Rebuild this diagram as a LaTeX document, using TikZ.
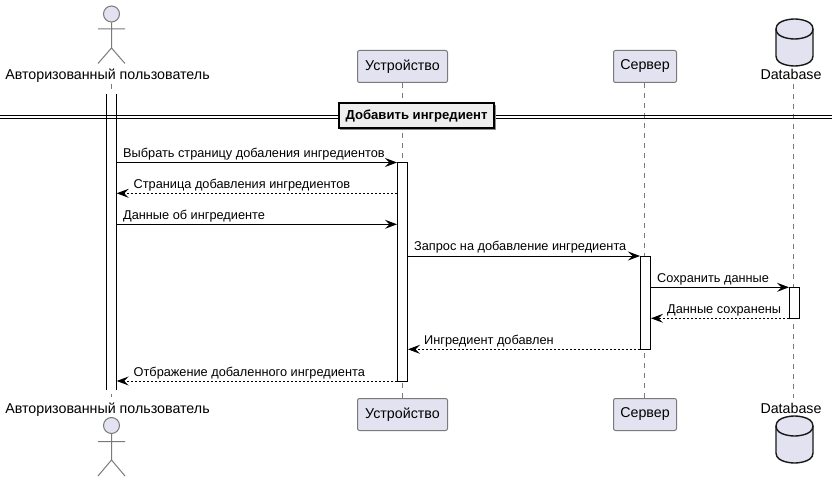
\documentclass[tikz,border=0pt]{standalone}
\usepackage{fontspec}
\setmainfont{Liberation Sans}
\usetikzlibrary{arrows.meta}
\definecolor{partfill}{HTML}{E2E2F0}
\definecolor{thinline}{HTML}{7A7A7A}
\definecolor{ink}{HTML}{181818}
\definecolor{divfill}{HTML}{EEEEEE}
\tikzset{
  x=1pt,y=-1pt,
  lab/.style={inner sep=0pt,font=\fontsize{14.25}{16}\selectfont,text=black},
  msgtext/.style={inner sep=0pt,anchor=base west,font=\fontsize{12.75}{15}\selectfont,text=black},
  partbox/.style={draw=thinline,fill=partfill,line width=1pt,rounded corners=2pt,minimum height=32pt,inner sep=0pt,font=\fontsize{14.25}{16}\selectfont},
  life/.style={draw=thinline,line width=1pt,dash pattern=on 5pt off 5pt},
  actbar/.style={draw=black,fill=white,line width=1pt,minimum width=10pt,inner sep=0pt},
  call/.style={draw=black,line width=1pt,-{Stealth[length=12pt,width=9pt,inset=4.5pt]}},
  reply/.style={call,dash pattern=on 2pt off 2pt},
  actorline/.style={draw=thinline,line width=1pt},
  headc/.style={circle,draw=thinline,fill=partfill,line width=1pt,minimum size=16pt,inner sep=0pt},
  dbshape/.style={draw=ink,fill=partfill,line width=1.4pt},
}
\begin{document}
\begin{tikzpicture}
\useasboundingbox (0,0) rectangle (838,481);
\fill[white] (0,0) rectangle (838,481);
% header / footer participants
\node[lab,anchor=base] (ut) at (107.5,80) {Авторизованный пользователь};
\node[lab,anchor=base] (ub) at (107.5,413) {Авторизованный пользователь};
\node[partbox,minimum width=90pt] (dt) at (402.5,66.5) {Устройство};
\node[partbox,minimum width=90pt] (db) at (402.5,414.5) {Устройство};
\node[partbox,minimum width=63pt] (st) at (645,66.5) {Сервер};
\node[partbox,minimum width=63pt] (sb) at (645,414.5) {Сервер};
\node[lab,anchor=base] (bt) at (791,80) {Database};
\node[lab,anchor=base] (bb) at (791,413) {Database};
% lifelines
\coordinate (uls) at (111.5,84);
\coordinate (ule) at (111.5,397);
\coordinate (bls) at (793.5,84);
\coordinate (ble) at (793.5,398);
\draw[life] (uls) -- (ule);
\draw[life] (dt.south -| 402.5,0) -- (db.north -| 402.5,0);
\draw[life] (st.south -| 644.5,0) -- (sb.north -| 644.5,0);
\draw[life] (bls) -- (ble);
% actors
\node[headc] (ha) at (111.5,14) {};
\coordinate (hip) at (111.5,48);
\coordinate (arml) at (98,29); \coordinate (armr) at (125,29);
\coordinate (legl) at (98,63.5); \coordinate (legr) at (125,63.5);
\draw[actorline] (ha.south) -- (hip) (arml) -- (armr) (legl) -- (hip) -- (legr);
\node[headc] (hb) at (111.5,425.5) {};
\coordinate (hipb) at (111.5,460);
\coordinate (armlb) at (98,441.5); \coordinate (armrb) at (125,441.5);
\coordinate (leglb) at (98,476); \coordinate (legrb) at (125,476);
\draw[actorline] (hb.south) -- (hipb) (armlb) -- (armrb) (leglb) -- (hipb) -- (legrb);
% databases
\path[dbshape] (776,29) .. controls (776,19) and (794.5,19) .. (794.5,19) .. controls (794.5,19) and (813,19) .. (813,29) -- (813,56) .. controls (813,66) and (794.5,66) .. (794.5,66) .. controls (794.5,66) and (776,66) .. (776,56) -- cycle;
\draw[dbshape,fill=none] (776,29) .. controls (776,39) and (794.5,39) .. (794.5,39) .. controls (794.5,39) and (813,39) .. (813,29);
\path[dbshape] (776,426) .. controls (776,416) and (794.5,416) .. (794.5,416) .. controls (794.5,416) and (813,416) .. (813,426) -- (813,453) .. controls (813,463) and (794.5,463) .. (794.5,463) .. controls (794.5,463) and (776,463) .. (776,453) -- cycle;
\draw[dbshape,fill=none] (776,426) .. controls (776,436) and (794.5,436) .. (794.5,436) .. controls (794.5,436) and (813,436) .. (813,426);
% activations
\node[fill=white,inner sep=0pt,minimum width=10pt,minimum height=296pt] (au) at (111.5,242) {};
\draw[draw=black,line width=1pt] (au.north west) -- (au.south west) (au.north east) -- (au.south east);
\node[actbar,minimum height=218.5pt] (ad) at (402.5,271.75) {};
\node[actbar,minimum height=93pt] (as) at (645.5,302.5) {};
\node[actbar,minimum height=31pt] (ab) at (794.5,302.8) {};
% divider
\coordinate (dl) at (0,0); \coordinate (dr) at (832,0);
\draw[black,line width=1pt] (dl |- 0,115.5) -- (dr |- 0,115.5) (dl |- 0,118.5) -- (dr |- 0,118.5);
\fill[black!45] (340,105) rectangle (496,130);
\node[draw=black,fill=divfill,line width=2pt,minimum width=155pt,minimum height=25pt,inner sep=0pt,font=\bfseries\fontsize{13.1}{15}\selectfont] (dv) at (416.5,116) {Добавить ингредиент};
% messages
\coordinate (m1) at (0,162.5);
\coordinate (m2) at (0,193.3);
\coordinate (m3) at (0,224.3);
\coordinate (m4) at (0,256);
\coordinate (m5) at (0,287.3);
\coordinate (m6) at (0,318.3);
\coordinate (m7) at (0,349.3);
\coordinate (m8) at (0,381);
\draw[call] (au.east |- m1) -- (ad.west |- m1);
\draw[reply] (ad.west |- m2) -- (au.east |- m2);
\draw[call] (au.east |- m3) -- (ad.west |- m3);
\draw[call] (ad.east |- m4) -- (as.west |- m4);
\draw[call] (as.east |- m5) -- (ab.west |- m5);
\draw[reply] (ab.west |- m6) -- (as.east |- m6);
\draw[reply] (as.west |- m7) -- (ad.east |- m7);
\draw[reply] (ad.west |- m8) -- (au.east |- m8);
\node[msgtext] (t1) at (123,157.5) {Выбрать страницу добаления ингредиентов};
\node[msgtext] (t2) at (133.5,188.3) {Страница добавления ингредиентов};
\node[msgtext] (t3) at (123,219.3) {Данные об ингредиенте};
\node[msgtext] (t4) at (414,251) {Запрос на добавление ингредиента};
\node[msgtext] (t5) at (657,282.3) {Сохранить данные};
\node[msgtext] (t6) at (667,313.3) {Данные сохранены};
\node[msgtext] (t7) at (424,344.3) {Ингредиент добавлен};
\node[msgtext] (t8) at (133.5,376) {Отбражение добаленного ингредиента};
\end{tikzpicture}
\end{document}
